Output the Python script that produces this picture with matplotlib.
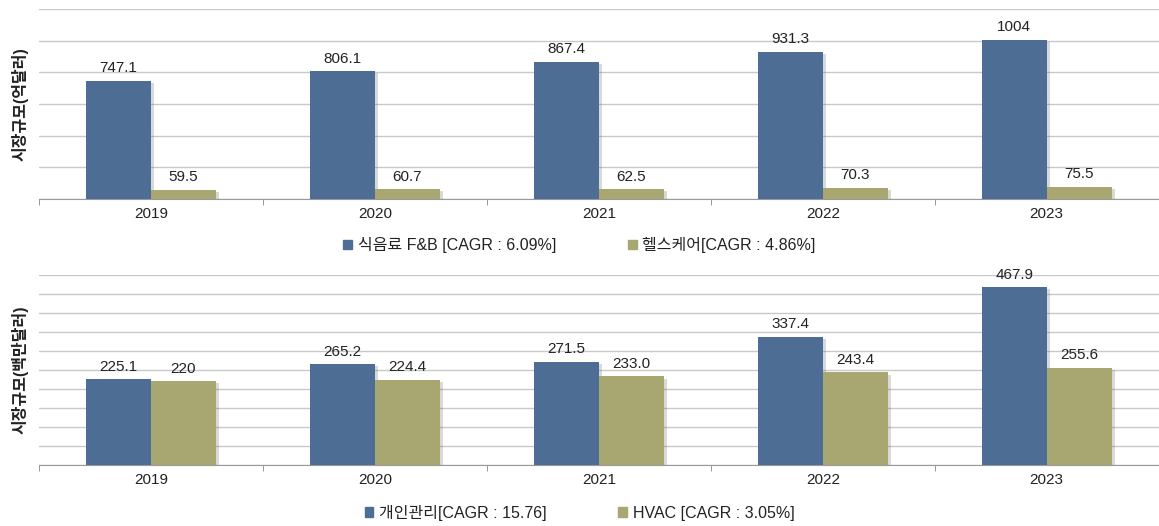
import numpy as np
import matplotlib.pyplot as plt
from matplotlib import patheffects
from matplotlib.patches import Patch

plt.rcParams['font.family'] = ['Liberation Sans', 'Noto Sans CJK KR', 'DejaVu Sans']

years = ['2019', '2020', '2021', '2022', '2023']

fnb = [747.1, 806.1, 867.4, 931.3, 1004]
fnb_labels = ['747.1', '806.1', '867.4', '931.3', '1004']
health = [59.5, 60.7, 62.5, 70.3, 75.5]
health_labels = ['59.5', '60.7', '62.5', '70.3', '75.5']

personal = [225.1, 265.2, 271.5, 337.4, 467.9]
personal_labels = ['225.1', '265.2', '271.5', '337.4', '467.9']
hvac = [220, 224.4, 233.0, 243.4, 255.6]
hvac_labels = ['220', '224.4', '233.0', '243.4', '255.6']

blue = '#4d6d94'
green = '#a8a671'

fig = plt.figure(figsize=(11.59, 5.26), dpi=100)
ax1 = fig.add_axes([0.0337, 0.6217, 0.966, 0.3612])
ax2 = fig.add_axes([0.0337, 0.116, 0.966, 0.3612])

x = np.arange(len(years))
w = 0.29
shadow = [patheffects.SimplePatchShadow(offset=(2.5, -1.5), alpha=0.22, shadow_rgbFace='#555555'),
          patheffects.Normal()]


def draw(ax, a, a_lab, b, b_lab, ymax, step, ylabel, names, legy):
    ba = ax.bar(x - w / 2, a, w, color=blue, zorder=3)
    bb = ax.bar(x + w / 2, b, w, color=green, zorder=3)
    for bars in (ba, bb):
        for p in bars:
            p.set_path_effects(shadow)
    for xi, v, s in zip(x - w / 2, a, a_lab):
        ax.annotate(s, (xi, v), xytext=(0, 4), textcoords='offset points',
                    ha='center', va='bottom', fontsize=11, color='#222222')
    for xi, v, s in zip(x + w / 2, b, b_lab):
        ax.annotate(s, (xi, v), xytext=(0, 4), textcoords='offset points',
                    ha='center', va='bottom', fontsize=11, color='#222222')
    ax.set_xlim(-0.5, len(years) - 0.5)
    ax.set_ylim(0, ymax)
    ax.set_yticks(np.arange(0, ymax + step / 2, step))
    ax.set_yticklabels([])
    ax.tick_params(axis='y', length=0)
    ax.grid(axis='y', color='#c9c9c9', linewidth=1, zorder=0)
    ax.set_axisbelow(True)
    ax.set_xticks(x)
    ax.set_xticklabels(years, fontsize=11, color='#222222')
    ax.set_xticks(np.arange(-0.5, len(years), 1), minor=True)
    ax.tick_params(axis='x', which='major', length=0, pad=6)
    ax.tick_params(axis='x', which='minor', length=4, color='#888888', direction='out')
    for sp in ['top', 'right', 'left']:
        ax.spines[sp].set_visible(False)
    ax.spines['bottom'].set_color('#999999')
    ax.set_ylabel(ylabel, fontsize=11.5, fontweight='bold', color='#222222')
    ax.yaxis.set_label_coords(-0.009, 0.5)
    handles = [Patch(color=blue), Patch(color=green)]
    fig.legend(handles=handles, labels=names, loc='center', bbox_to_anchor=(0.5, legy),
               ncol=2, frameon=False, fontsize=11.5, handlelength=0.55, handleheight=0.55,
               handletextpad=0.35, columnspacing=4.5, labelcolor='#222222')


draw(ax1, fnb, fnb_labels, health, health_labels, 1200, 200, '시장규모(억달러)',
     ['식음료 F&B [CAGR : 6.09%]', '헬스케어[CAGR : 4.86%]'], 0.534)
draw(ax2, personal, personal_labels, hvac, hvac_labels, 500, 50, '시장규모(백만달러)',
     ['개인관리[CAGR : 15.76]', 'HVAC [CAGR : 3.05%]'], 0.025)

fig.savefig('out.png', dpi=100)
